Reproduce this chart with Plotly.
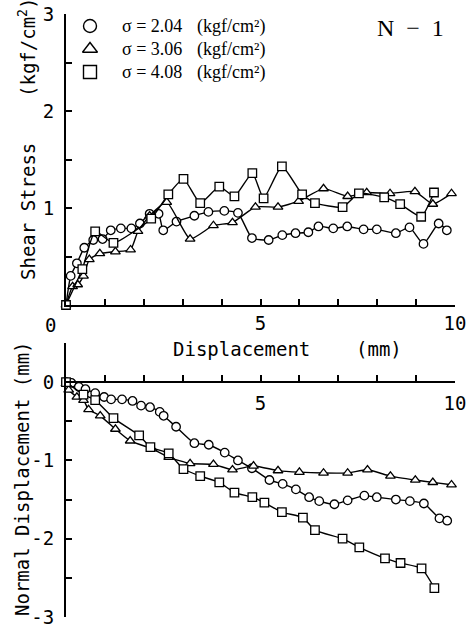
import plotly.graph_objects as go

W, H = 474, 630

# ---------------- data: shear stress (top) ----------------
tc_x = [0, 0.12, 0.28, 0.47, 0.70, 0.94, 1.15, 1.41, 1.68, 1.90, 2.15, 2.38, 2.50, 2.84, 3.30, 3.66, 4.07, 4.42, 4.78, 5.21, 5.56, 5.90, 6.23, 6.49, 6.87, 7.23, 7.65, 7.99, 8.48, 8.83, 9.19, 9.58, 9.79]
tc_y = [0, 0.30, 0.43, 0.59, 0.67, 0.68, 0.77, 0.79, 0.79, 0.84, 0.94, 0.94, 0.77, 0.86, 0.92, 0.96, 0.97, 0.95, 0.69, 0.67, 0.72, 0.74, 0.75, 0.81, 0.79, 0.81, 0.78, 0.78, 0.74, 0.80, 0.63, 0.84, 0.77]

tt_x = [0, 0.17, 0.30, 0.45, 0.60, 0.87, 1.27, 1.66, 1.85, 2.15, 2.59, 3.19, 3.79, 4.28, 4.87, 5.45, 5.98, 6.62, 7.24, 7.73, 8.33, 8.97, 9.43, 9.91]
tt_y = [0, 0.19, 0.21, 0.30, 0.47, 0.53, 0.55, 0.57, 0.76, 0.92, 1.06, 0.68, 0.82, 0.85, 1.01, 1.01, 1.07, 1.20, 1.12, 1.16, 1.15, 1.17, 1.04, 1.15]

ts_x = [0, 0.42, 0.75, 1.22, 2.19, 2.63, 3.02, 3.45, 3.94, 4.33, 4.79, 5.08, 5.55, 6.07, 6.40, 7.11, 7.53, 8.18, 8.59, 9.13, 9.46]
ts_y = [0, 0.37, 0.76, 0.64, 0.89, 1.14, 1.30, 1.05, 1.22, 1.12, 1.36, 1.10, 1.43, 1.14, 1.05, 1.01, 1.15, 1.11, 1.04, 0.91, 1.16]

# ---------------- data: normal displacement (bottom) ----------------
bc_x = [0, 0.14, 0.33, 0.50, 0.75, 0.98, 1.16, 1.44, 1.71, 1.93, 2.16, 2.41, 2.51, 2.83, 3.30, 3.67, 4.08, 4.42, 4.78, 5.23, 5.57, 5.91, 6.25, 6.51, 6.90, 7.24, 7.67, 7.99, 8.48, 8.84, 9.20, 9.60, 9.80]
bc_y = [0, -0.01, -0.06, -0.09, -0.14, -0.19, -0.22, -0.22, -0.24, -0.30, -0.32, -0.38, -0.43, -0.57, -0.78, -0.80, -0.90, -1.00, -1.10, -1.25, -1.30, -1.37, -1.47, -1.52, -1.56, -1.51, -1.45, -1.47, -1.50, -1.52, -1.55, -1.74, -1.77]

bt_x = [0, 0.07, 0.28, 0.45, 0.58, 0.88, 1.27, 1.65, 2.21, 2.64, 3.19, 3.79, 4.28, 4.82, 5.45, 6.00, 6.62, 7.24, 7.75, 8.34, 8.98, 9.43, 9.91]
bt_y = [-0.02, -0.10, -0.19, -0.23, -0.35, -0.43, -0.60, -0.75, -0.85, -0.96, -1.04, -1.05, -1.12, -1.07, -1.13, -1.15, -1.16, -1.16, -1.12, -1.20, -1.25, -1.28, -1.31]

bs_x = [0, 0.45, 0.75, 1.22, 1.88, 2.17, 2.64, 3.02, 3.45, 3.94, 4.33, 4.79, 5.10, 5.55, 6.09, 6.40, 7.11, 7.54, 8.20, 8.60, 9.14, 9.47]
bs_y = [0, -0.16, -0.23, -0.46, -0.68, -0.83, -0.91, -1.11, -1.20, -1.28, -1.41, -1.47, -1.54, -1.66, -1.73, -1.89, -2.00, -2.11, -2.25, -2.31, -2.38, -2.63]

series_names = ["σ = 2.04", "σ = 3.06", "σ = 4.08"]
series_unit = "(kgf/cm²)"
symbols = ["circle", "triangle-up", "square"]

top_x_ticks = [5, 10]
top_y_ticks = [1, 2, 3]
bot_x_ticks = [5, 10]
bot_y_ticks = [0, -1, -2, -3]
bot_y_text = ["0", "-1", "-2", "-3"]

MONO = "DejaVu Sans Mono, monospace"
SERIF = "Liberation Serif, Times New Roman, serif"

fig = go.Figure()

def add(x, y, sym, xa, ya):
    fig.add_trace(go.Scatter(
        x=x, y=y, mode="lines+markers", xaxis=xa, yaxis=ya, showlegend=False,
        line=dict(color="black", width=1.4, shape="spline", smoothing=0.5),
        marker=dict(symbol=sym, size=8.5, color="white", line=dict(color="black", width=1.3)),
        cliponaxis=False,
    ))

add(tc_x, tc_y, symbols[0], "x", "y")
add(tt_x, tt_y, symbols[1], "x", "y")
add(ts_x, ts_y, symbols[2], "x", "y")
add(bc_x, bc_y, symbols[0], "x2", "y2")
add(bt_x, bt_y, symbols[1], "x2", "y2")
add(bs_x, bs_y, symbols[2], "x2", "y2")

# legend key (drawn on a hidden pixel-space overlay axis)
LEG_X, LEG_TX, LEG_UX, LEG_Y0, LEG_DY = 90, 120, 195, 26, 23
leg_rows = [LEG_Y0 + i * LEG_DY for i in range(len(series_names))]
for row, sym in zip(leg_rows, symbols):
    fig.add_trace(go.Scatter(
        x=[LEG_X], y=[row], mode="markers", xaxis="x3", yaxis="y3", showlegend=False,
        marker=dict(symbol=sym + "-open", size=13, color="black", line=dict(width=1.4)),
        hoverinfo="skip",
    ))
for row, name in zip(leg_rows, series_names):
    fig.add_annotation(text=name, xref="x3", yref="y3", x=LEG_TX, y=row, xanchor="left", yanchor="middle",
                       showarrow=False, font=dict(family=SERIF, size=18, color="black"))
    fig.add_annotation(text=series_unit, xref="x3", yref="y3", x=LEG_UX, y=row, xanchor="left", yanchor="middle",
                       showarrow=False, font=dict(family=SERIF, size=18, color="black"))

xd = [66 / W, 455 / W]
minor_common = dict(ticks="inside", ticklen=6, tickwidth=1.5, tickcolor="black")
axis_common = dict(showgrid=False, zeroline=False, showline=True, linecolor="black", linewidth=2,
                   ticks="inside", ticklen=6, tickwidth=1.5, tickcolor="black", automargin=False,
                   tickfont=dict(family=MONO, size=19, color="black"))

fig.update_layout(
    template="none",
    width=W, height=H, margin=dict(l=0, r=0, t=0, b=0, pad=0),
    paper_bgcolor="white", plot_bgcolor="rgba(0,0,0,0)", showlegend=False,
    xaxis=dict(domain=xd, range=[0, 10], anchor="y", tickvals=top_x_ticks,
               minor=dict(dtick=1, tick0=0, **minor_common), **axis_common),
    yaxis=dict(domain=[(H - 305) / H, (H - 14) / H], range=[0, 3], anchor="x", tickvals=top_y_ticks,
               ticklabelstandoff=6, minor=dict(dtick=0.5, tick0=0, **minor_common), **axis_common),
    xaxis2=dict(domain=xd, range=[0, 10], anchor="free", position=(H - 382) / H, tickvals=bot_x_ticks,
                ticklabelstandoff=4, minor=dict(dtick=1, tick0=0, **minor_common), **axis_common),
    yaxis2=dict(domain=[(H - 617) / H, (H - 343) / H], range=[-3, 0.5], anchor="x2", tickvals=bot_y_ticks,
                ticktext=bot_y_text, ticklabelstandoff=6,
                minor=dict(dtick=0.5, tick0=0, **minor_common), **axis_common),
    xaxis3=dict(domain=[0, 1], range=[0, W], visible=False, fixedrange=True, anchor="y3", automargin=False),
    yaxis3=dict(domain=[0, 1], range=[H, 0], visible=False, fixedrange=True, anchor="x3", automargin=False),
)

NB = "\u00a0"
fig.add_annotation(text="Shear Stress" + NB * 4 + "(kgf/cm<sup>2</sup>)", xref="paper", yref="paper",
                   x=27 / W, y=1 - 139 / H, xanchor="center", yanchor="middle", textangle=-90, showarrow=False,
                   font=dict(family=MONO, size=19, color="black"))
fig.add_annotation(text="Normal Displacement (mm)", xref="paper", yref="paper",
                   x=22 / W, y=1 - 479 / H, xanchor="center", yanchor="middle", textangle=-90, showarrow=False,
                   font=dict(family=MONO, size=19, color="black"))
fig.add_annotation(text="Displacement" + NB * 4 + "(mm)", xref="paper", yref="paper",
                   x=287 / W, y=1 - 349 / H, xanchor="center", yanchor="middle", showarrow=False,
                   font=dict(family=MONO, size=19, color="black"))
fig.add_annotation(text="0", xref="paper", yref="paper", x=50 / W, y=1 - 325 / H,
                   xanchor="center", yanchor="middle", showarrow=False,
                   font=dict(family=MONO, size=19, color="black"))
fig.add_annotation(text="N" + NB * 2 + "−" + NB * 2 + "1", xref="paper", yref="paper",
                   x=410 / W, y=1 - 28 / H, xanchor="center", yanchor="middle", showarrow=False,
                   font=dict(family=SERIF, size=24, color="black"))

fig.write_html("out.html", config={"displayModeBar": False},
               post_script="document.body.style.margin='0';document.body.style.overflow='hidden';")
